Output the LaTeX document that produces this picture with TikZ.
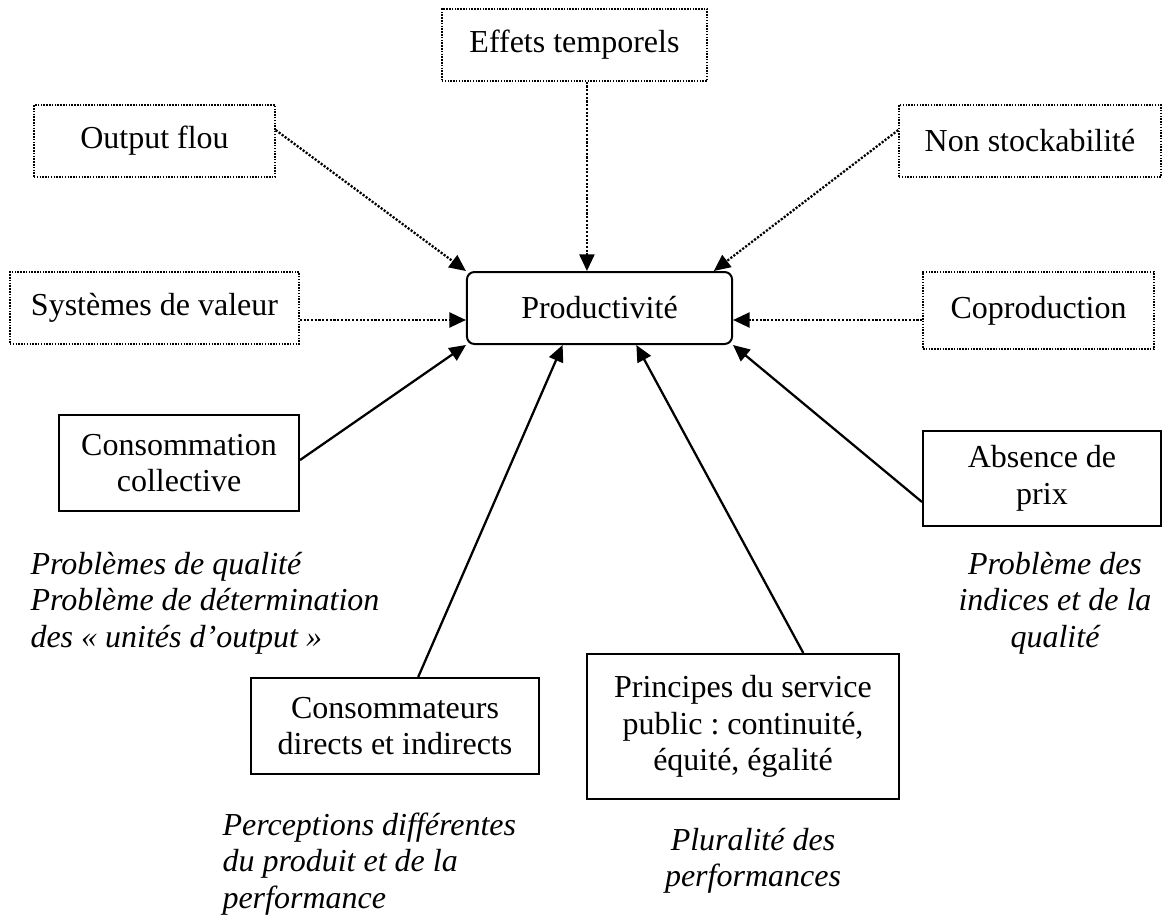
\documentclass[tikz,border=0pt]{standalone}
\usepackage{fontspec}
\setmainfont{Liberation Serif}
\usetikzlibrary{arrows.meta,calc}
\frenchspacing
\begin{document}
\begin{tikzpicture}[x=0.375pt,y=-0.375pt,
  txt/.style={font=\fontsize{12pt}{13.8pt}\selectfont, inner sep=0pt},
  boxbase/.style={txt, align=center},
  dotbox/.style={boxbase, draw, line width=0.55pt, dash pattern=on 0.55pt off 0.5pt},
  solidbox/.style={boxbase, draw, line width=0.75pt},
  prodbox/.style={boxbase, draw, line width=0.75pt, rounded corners=2.8pt},
  dotarrow/.style={line width=0.85pt, dash pattern=on 0.8pt off 0.6pt, -{Triangle[length=6.2pt,width=5.6pt]}},
  solarrow/.style={line width=0.85pt, -{Triangle[length=6.2pt,width=5.6pt]}},
  note/.style={font=\fontsize{12pt}{13.8pt}\selectfont\itshape, inner sep=0pt}
]
\useasboundingbox (0,0) rectangle (1163,917);

% central node
\node[prodbox, minimum width=99.4pt, minimum height=27pt] (prod) at (599.5,308) {Productivité};

% dotted boxes
\node[dotbox, minimum width=99.4pt, minimum height=27pt] (effets) at (574.5,45) {Effets temporels};
\node[dotbox, minimum width=90.4pt, minimum height=27pt] (outflou) at (154.5,141) {Output flou};
\node[dotbox, minimum width=98.25pt, minimum height=27pt] (nonstock) at (1030,141) {Non stockabilité};
\node[dotbox, minimum width=108.4pt, minimum height=27pt] (systemes) at (154.5,308) {Systèmes de valeur};
\node[dotbox, minimum width=86.6pt, minimum height=28.9pt] (coprod) at (1038.5,310.5) {Coproduction};

% solid boxes
\node[solidbox, minimum width=90pt, minimum height=36pt] (conso) at (179,463) {Consommation\\collective};
\node[solidbox, minimum width=89.25pt, minimum height=35.6pt] (absence) at (1042,478.5) {Absence de\\prix};
\node[solidbox, minimum width=108pt, minimum height=36pt] (consomm) at (395,726) {Consommateurs\\directs et indirects};
\node[solidbox, minimum width=117pt, minimum height=54.4pt] (principes) at (743,726.5) {Principes du service\\public : continuité,\\équité, égalité};

% italic notes
\node[note, anchor=base west] (n1) at (30,574) {\begin{tabular}[t]{@{}l@{}}Problèmes de qualité\\Problème de détermination\\des « unités d’output »\end{tabular}};
\node[note, anchor=base west] (n2) at (222,835) {\begin{tabular}[t]{@{}l@{}}Perceptions différentes\\du produit et de la\\performance\end{tabular}};
\node[note, anchor=base] (n3) at (753,850) {\begin{tabular}[t]{@{}c@{}}Pluralité des\\performances\end{tabular}};
\node[note, anchor=base] (n4) at (1055,574) {\begin{tabular}[t]{@{}c@{}}Problème des\\indices et de la\\qualité\end{tabular}};

% target points on the central box
\coordinate (tE) at ($(prod.north west)!0.453!(prod.north east)$);
\coordinate (tN) at ($(prod.north west)!0.928!(prod.north east)$);
\coordinate (tW) at ([yshift=-4.5pt]prod.west);
\coordinate (tR) at ([yshift=-4.5pt]prod.east);
\coordinate (tC1) at ($(prod.south west)!0.362!(prod.south east)$);
\coordinate (tC2) at ($(prod.south west)!0.638!(prod.south east)$);

% dotted connectors
\draw[dotarrow] ([yshift=4.1pt]outflou.east) -- (prod.north west);
\draw[dotarrow] (effets.south -| tE) -- (tE);
\draw[dotarrow] ([yshift=4.1pt]nonstock.west) -- (tN);
\draw[dotarrow] (systemes.east |- tW) -- (tW);
\draw[dotarrow] (coprod.west |- tR) -- (tR);

% solid connectors
\draw[solarrow] ([yshift=1.1pt]conso.east) -- (prod.south west);
\draw[solarrow] ($(consomm.north west)!0.58!(consomm.north east)$) -- (tC1);
\draw[solarrow] ($(principes.north west)!0.692!(principes.north east)$) -- (tC2);
\draw[solarrow] ([yshift=-8.8pt]absence.west) -- (prod.south east);
\end{tikzpicture}
\end{document}
